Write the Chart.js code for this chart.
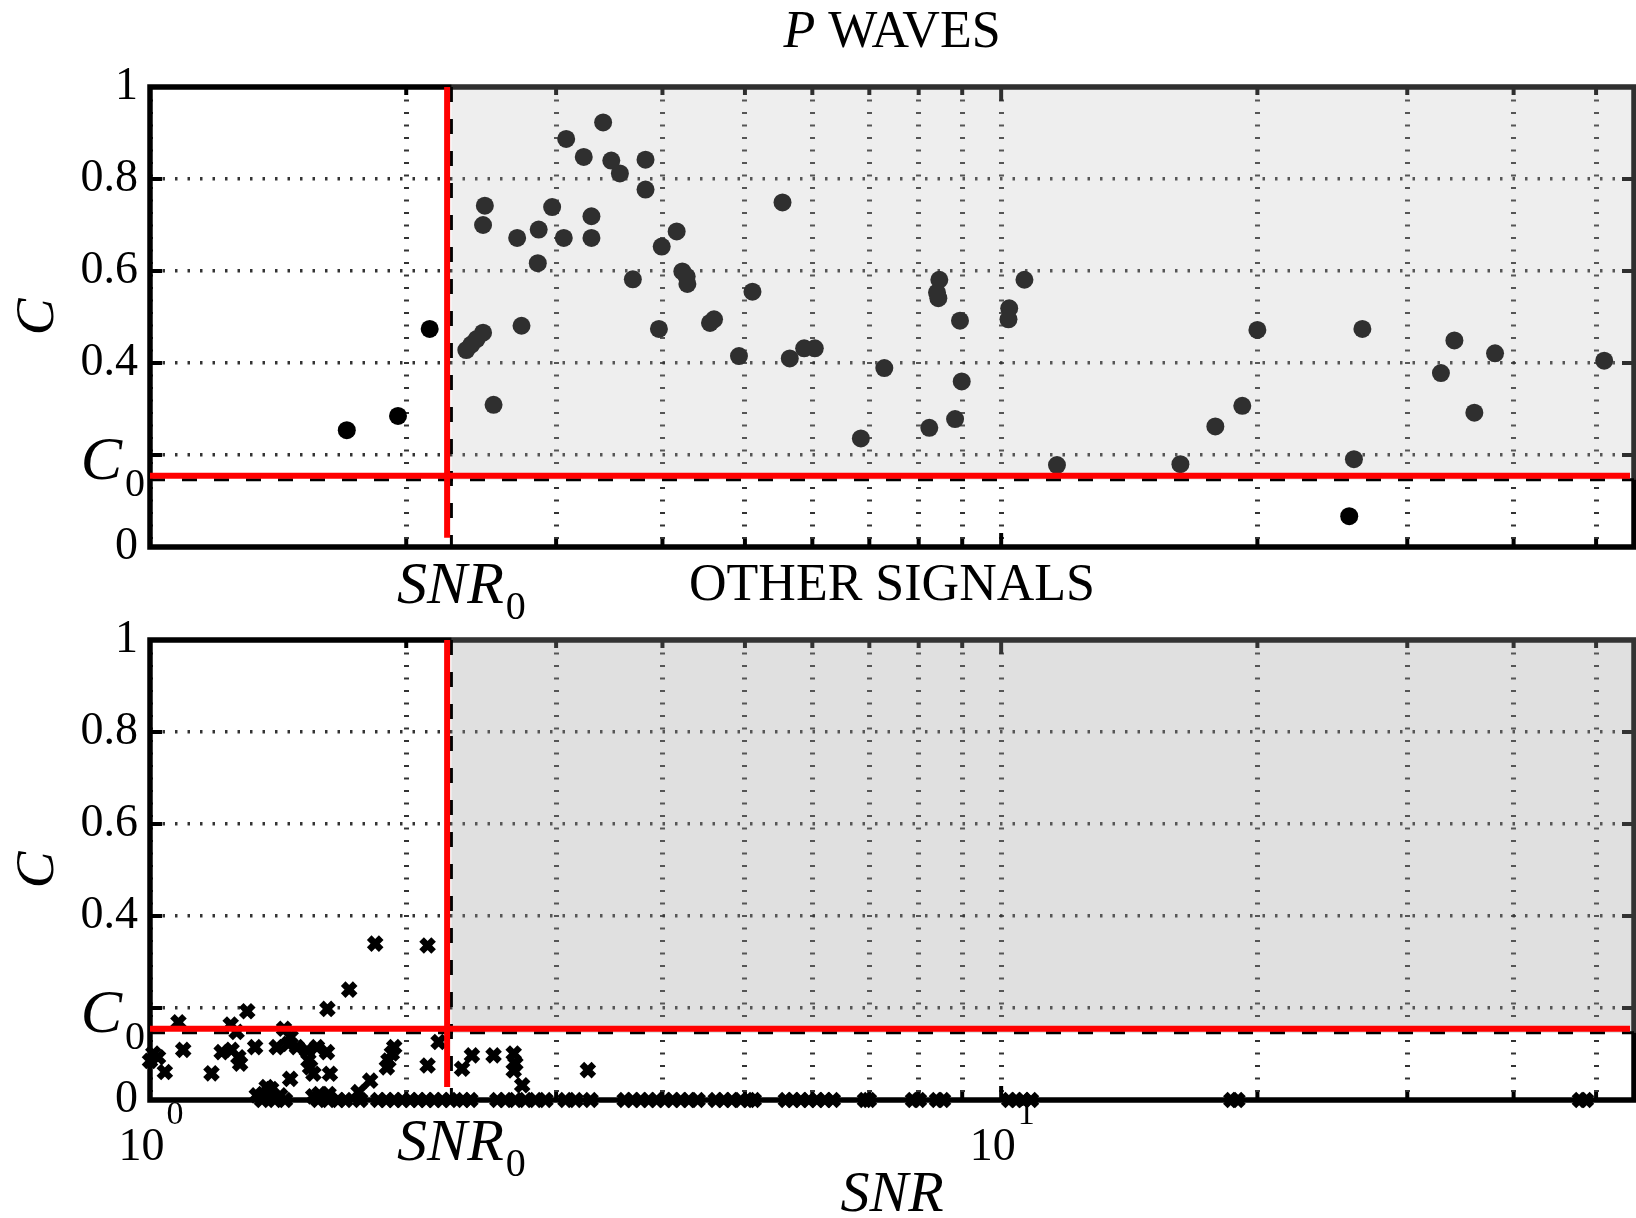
<!DOCTYPE html>
<html>
<head>
<meta charset="utf-8">
<title>P waves / other signals</title>
<script src="https://cdn.jsdelivr.net/npm/chart.js@4.4.1/dist/chart.umd.min.js"></script>
<style>
  html, body { margin: 0; padding: 0; background: #fff; }
  body { width: 1636px; height: 1218px; position: relative; overflow: hidden; }
  canvas { position: absolute; left: 0; }
  #top_graph { top: 0; }
  #bottom_graph { top: 550px; }
</style>
</head>
<body>
<canvas id="top_graph" width="1636" height="640"></canvas>
<canvas id="bottom_graph" width="1636" height="668"></canvas>
<script>
// axis values
const snrGrid = [1, 2, 3, 4, 5, 6, 7, 8, 9, 10, 20, 30, 40, 50];
const cTicks = [0, 0.2, 0.4, 0.6, 0.8, 1];
const decadeTicks = [1, 10];
const decadeExp = ['0', '1'];
const snrMin = 1;
const snrMax = 55.4;

// thresholds (red) and edge of the grey zone (dashed)
const SNR0 = 2.234;
const C0 = 0.155;
const shadeSnr = 2.26;
const shadeC = 0.146;

// P waves
const pWaveSnr = [1.703, 1.956, 2.131, 2.353, 2.385, 2.420, 2.462, 2.474, 2.462, 2.533,
  2.700, 2.732, 2.862, 2.855, 2.968, 3.063, 3.083, 3.233, 3.301, 3.301,
  3.407, 3.483, 3.565, 3.692, 3.821, 3.821, 3.962, 3.992, 4.157, 4.221,
  4.271, 4.279, 4.549, 4.599, 4.920, 5.103, 5.535, 5.645, 5.869, 6.040,
  7.290, 6.842, 8.234, 8.460, 8.407, 8.437, 8.828, 8.946, 8.988, 10.22,
  10.20, 10.65, 11.63, 16.24, 17.85, 19.20, 20.0, 26.57, 25.97, 25.64,
  32.86, 34.08, 35.97, 38.04, 51.11];
const pWaveC = [0.254, 0.285, 0.474, 0.428, 0.440, 0.452, 0.466, 0.742, 0.700, 0.309,
  0.672, 0.481, 0.690, 0.617, 0.739, 0.672, 0.887, 0.848, 0.719, 0.672,
  0.923, 0.840, 0.812, 0.582, 0.842, 0.777, 0.474, 0.653, 0.686, 0.599,
  0.588, 0.572, 0.487, 0.495, 0.415, 0.555, 0.749, 0.410, 0.432, 0.432,
  0.389, 0.236, 0.259, 0.581, 0.553, 0.541, 0.278, 0.492, 0.360, 0.519,
  0.495, 0.581, 0.178, 0.180, 0.262, 0.307, 0.472, 0.474, 0.191, 0.067,
  0.378, 0.449, 0.292, 0.421, 0.405];

// other signals
const otherSnr = [1.839, 2.119, 1.714, 1.616, 1.301, 1.080, 1.244, 1.264, 1.437, 1.463,
  1.009, 1.022, 1.000, 1.041, 1.094, 1.181, 1.214, 1.247, 1.270, 1.276,
  1.329, 1.409, 1.454, 1.488, 1.529, 1.535, 1.542, 1.556, 1.571, 1.614,
  1.627, 1.461, 1.371, 1.359, 1.422, 1.335, 1.814, 1.758, 1.898, 1.906,
  1.924, 1.936, 2.119, 2.183, 2.326, 2.389, 2.533, 2.675, 2.687, 2.675,
  2.737, 3.269, 1.621, 1.555, 1.581, 1.388,
  1.354, 1.402, 1.441, 1.576, 1.620, 1.664, 1.696, 1.766, 1.854, 1.895,
  1.936, 1.979, 2.022, 2.066, 2.111, 2.158, 2.205, 2.253, 2.334, 2.379,
  2.559, 2.615, 2.687, 2.761, 2.837, 2.915, 3.077, 3.162, 3.293, 3.611,
  3.690, 3.771, 3.853, 3.937, 4.024, 4.112, 4.202, 4.295, 4.400, 4.620,
  4.721, 4.825, 4.943, 5.052, 5.121, 5.585, 5.691, 5.816, 5.943, 6.073,
  6.206, 6.342, 6.918, 6.993, 7.878, 8.007, 8.407, 8.545, 10.22, 10.41,
  10.61, 10.84, 18.64, 18.95, 47.86, 48.64];
const otherC = [0.340, 0.336, 0.240, 0.198, 0.193, 0.169, 0.164, 0.148, 0.155, 0.137,
  0.101, 0.093, 0.085, 0.061, 0.109, 0.058, 0.104, 0.109, 0.093, 0.079,
  0.115, 0.115, 0.122, 0.115, 0.108, 0.086, 0.071, 0.057, 0.115, 0.104,
  0.057, 0.046, 0.028, 0.013, 0.010, 0.010, 0.042, 0.017, 0.071, 0.086,
  0.101, 0.115, 0.075, 0.126, 0.068, 0.097, 0.097, 0.101, 0.079, 0.064,
  0.032, 0.065, 0.013, 0.008, 0.013, 0.024,
  0, 0, 0, 0, 0, 0, 0, 0, 0, 0,
  0, 0, 0, 0, 0, 0, 0, 0, 0, 0,
  0, 0, 0, 0, 0, 0, 0, 0, 0, 0,
  0, 0, 0, 0, 0, 0, 0, 0, 0, 0,
  0, 0, 0, 0, 0, 0, 0, 0, 0, 0,
  0, 0, 0, 0, 0, 0, 0, 0, 0, 0,
  0, 0, 0, 0, 0, 0];

const SERIF = '"Liberation Serif", "Times New Roman", serif';
Chart.defaults.color = '#000';
Chart.defaults.font.family = SERIF;

function line(ctx, x1, y1, x2, y2) {
  ctx.beginPath();
  ctx.moveTo(x1, y1);
  ctx.lineTo(x2, y2);
  ctx.stroke();
}

const frame_plugin = {
  id: 'frame',
  beforeDatasetsDraw(chart) {
    const {ctx, chartArea: a, scales: {x, y}} = chart;
    ctx.save();
    ctx.strokeStyle = '#000';
    ctx.lineWidth = 4;
    // matlab style ticks, pointing inside
    cTicks.forEach((v) => {
      if (v <= 0 || v >= 1) return;
      const py = y.getPixelForValue(v);
      line(ctx, a.left, py, a.left + 12, py);
      line(ctx, a.right - 12, py, a.right, py);
    });
    snrGrid.forEach((v) => {
      if (v <= snrMin) return;
      const px = x.getPixelForValue(v);
      const len = v === 10 ? 14 : 8;
      line(ctx, px, a.bottom, px, a.bottom - len);
      line(ctx, px, a.top, px, a.top + len);
    });
    ctx.lineWidth = 5.5;
    ctx.strokeRect(a.left, a.top, a.right - a.left, a.bottom - a.top);
    ctx.restore();
  },
  afterDatasetsDraw(chart, args, opts) {
    const {ctx, chartArea: a, scales: {x, y}} = chart;
    // translucent patch: greys the points and grid that fall in it
    const sx = x.getPixelForValue(shadeSnr);
    const sy = y.getPixelForValue(shadeC);
    ctx.save();
    ctx.fillStyle = opts.shade;
    ctx.fillRect(sx, a.top - 3, a.right + 3 - sx, sy - a.top + 3);
    ctx.restore();
  },
  afterDraw(chart, args, opts) {
    const {ctx, chartArea: a, scales: {x, y}} = chart;
    const xr = x.getPixelForValue(SNR0);
    const yr = y.getPixelForValue(C0);
    const xs = x.getPixelForValue(shadeSnr);
    const ys = y.getPixelForValue(shadeC);
    ctx.save();
    ctx.strokeStyle = '#000';
    ctx.lineWidth = 3;
    ctx.setLineDash([15, 17]);
    line(ctx, a.left, ys, a.right, ys);
    line(ctx, xs, a.top, xs, a.bottom);
    ctx.setLineDash([]);

    ctx.strokeStyle = '#ff0000';
    ctx.lineWidth = 6;
    line(ctx, a.left, yr, a.right - 4, yr);
    line(ctx, xr, a.top, xr, y.getPixelForValue(opts.redFoot));

    ctx.fillStyle = '#000';
    ctx.textBaseline = 'alphabetic';
    // C0 next to the axis
    ctx.textAlign = 'right';
    ctx.font = `italic 62px ${SERIF}`;
    ctx.fillText('C', a.left - 28, yr + 3);
    ctx.textAlign = 'left';
    ctx.font = `40px ${SERIF}`;
    ctx.fillText('0', a.left - 25, yr + 20);

    // SNR0 under the axis
    ctx.font = `italic 60px ${SERIF}`;
    const w = ctx.measureText('SNR').width;
    ctx.fillText('SNR', xr - 50, a.bottom + opts.snrDrop);
    ctx.font = `40px ${SERIF}`;
    ctx.fillText('0', xr - 50 + w + 2, a.bottom + opts.snrDrop + 16);

    // panel title, mixed italic / upright
    const parts = opts.title.map(([t, it]) => {
      ctx.font = `${it ? 'italic ' : ''}52px ${SERIF}`;
      return {t, font: ctx.font, w: ctx.measureText(t).width};
    });
    let tx = (a.left + a.right) / 2 - parts.reduce((s, p) => s + p.w, 0) / 2;
    parts.forEach((p) => {
      ctx.font = p.font;
      ctx.fillText(p.t, tx, a.top - 40);
      tx += p.w;
    });

    if (opts.decades) {
      decadeTicks.forEach((v, i) => {
        ctx.font = `46px ${SERIF}`;
        const w1 = ctx.measureText('10').width;
        ctx.font = `34px ${SERIF}`;
        const w2 = ctx.measureText(decadeExp[i]).width;
        const left = x.getPixelForValue(v) - (w1 + w2) / 2;
        ctx.font = `46px ${SERIF}`;
        ctx.fillText('10', left, a.bottom + 60);
        ctx.font = `34px ${SERIF}`;
        ctx.fillText(decadeExp[i], left + w1 + 2, a.bottom + 24);
      });
    }
    ctx.restore();
  },
};

function make_chart(id, snr, c, panel) {
  return new Chart(document.getElementById(id), {
    type: 'scatter',
    data: {
      datasets: [Object.assign({
        data: snr.map((s, i) => ({x: s, y: c[i]})),
        clip: false,
      }, panel.marker)],
    },
    options: {
      responsive: false,
      animation: false,
      events: [],
      layout: {autoPadding: false, padding: {top: panel.padTop, right: 2, left: 0, bottom: 0}},
      plugins: {
        legend: {display: false},
        tooltip: {enabled: false},
        frame: panel.frame,
      },
      scales: {
        x: {
          type: 'logarithmic',
          min: snrMin,
          max: snrMax,
          afterBuildTicks: (s) => { s.ticks = snrGrid.map((v) => ({value: v})); },
          afterFit: (s) => { s.height = panel.xHeight; },
          ticks: {display: false},
          grid: {color: 'rgba(0,0,0,0.8)', lineWidth: 5, drawTicks: false},
          border: {display: false, dash: [2, 10.5]},
          title: panel.xTitle,
        },
        y: {
          min: 0,
          max: 1,
          afterBuildTicks: (s) => { s.ticks = cTicks.map((v) => ({value: v})); },
          afterFit: (s) => { s.width = 150; },
          ticks: {
            padding: 12,
            color: '#000',
            font: {family: SERIF, size: 46},
            callback: (v) => (v === 0.2 ? '' : String(v)),
          },
          grid: {color: 'rgba(0,0,0,0.8)', lineWidth: 3.5, drawTicks: false},
          border: {display: false, dash: [2.5, 10]},
          title: {
            display: true,
            text: 'C',
            color: '#000',
            font: {family: SERIF, size: 55, style: 'italic'},
            padding: {top: 6, bottom: 0},
          },
        },
      },
    },
    plugins: [frame_plugin],
  });
}

make_chart('top_graph', pWaveSnr, pWaveC, {
  padTop: 87,
  xHeight: 93,
  xTitle: {display: false},
  marker: {pointStyle: 'circle', pointRadius: 9, backgroundColor: '#000', borderWidth: 0},
  frame: {shade: 'rgba(187,187,187,0.25)', redFoot: 0.02, snrDrop: 56, title: [['P', true], [' WAVES', false]], decades: false},
});

make_chart('bottom_graph', otherSnr, otherC, {
  padTop: 90,
  xHeight: 118,
  xTitle: {
    display: true,
    text: 'SNR',
    color: '#000',
    font: {family: SERIF, size: 58, style: 'italic', lineHeight: 0.7},
    padding: {top: 0, bottom: 2},
  },
  marker: {pointStyle: 'crossRot', pointRadius: 8.5, borderColor: '#000', backgroundColor: '#000', borderWidth: 6.5},
  frame: {shade: 'rgba(160,160,160,0.32)', redFoot: 0.028, snrDrop: 60, title: [['OTHER SIGNALS', false]], decades: true},
});
</script>
</body>
</html>
